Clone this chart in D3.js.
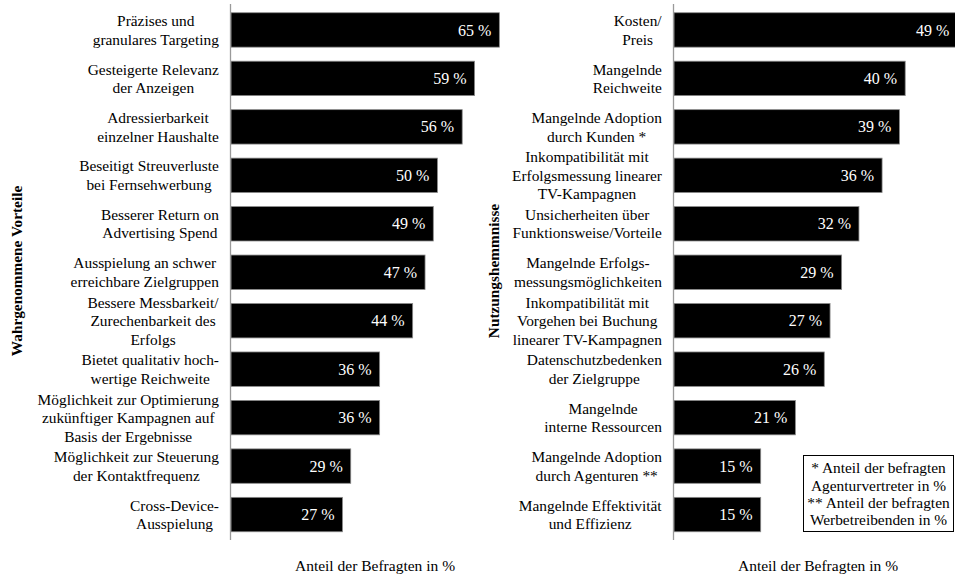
<!DOCTYPE html>
<html>
<head>
<meta charset="utf-8">
<script src="https://cdn.jsdelivr.net/npm/d3@7"></script>
<style>
  body { margin: 0; background: #fff; }
  text { font-family: 'Liberation Serif', 'DejaVu Serif', serif; }
</style>
</head>
<body>
<div id="chart"></div>
<script>
// ---- data ----
var vorteileLabels = [
  ["Präzises und", "granulares Targeting"],
  ["Gesteigerte Relevanz", "der Anzeigen"],
  ["Adressierbarkeit", "einzelner Haushalte"],
  ["Beseitigt Streuverluste", "bei Fernsehwerbung"],
  ["Besserer Return on", "Advertising Spend"],
  ["Ausspielung an schwer", "erreichbare Zielgruppen"],
  ["Bessere Messbarkeit/", "Zurechenbarkeit des", "Erfolgs"],
  ["Bietet qualitativ hoch-", "wertige Reichweite"],
  ["Möglichkeit zur Optimierung", "zukünftiger Kampagnen auf", "Basis der Ergebnisse"],
  ["Möglichkeit zur Steuerung", "der Kontaktfrequenz"],
  ["Cross-Device-", "Ausspielung"]
];
var vorteileValues = [65, 59, 56, 50, 49, 47, 44, 36, 36, 29, 27];

var hemmnisseLabels = [
  ["Kosten/", "Preis"],
  ["Mangelnde", "Reichweite"],
  ["Mangelnde Adoption", "durch Kunden *"],
  ["Inkompatibilität mit", "Erfolgsmessung linearer", "TV-Kampagnen"],
  ["Unsicherheiten über", "Funktionsweise/Vorteile"],
  ["Mangelnde Erfolgs-", "messungsmöglichkeiten"],
  ["Inkompatibilität mit", "Vorgehen bei Buchung", "linearer TV-Kampagnen"],
  ["Datenschutzbedenken", "der Zielgruppe"],
  ["Mangelnde", "interne Ressourcen"],
  ["Mangelnde Adoption", "durch Agenturen **"],
  ["Mangelnde Effektivität", "und Effizienz"]
];
var hemmnisseValues = [49, 40, 39, 36, 32, 29, 27, 26, 21, 15, 15];

var legendLines = [
  "* Anteil der befragten",
  "Agenturvertreter in %",
  "** Anteil der befragten",
  "Werbetreibenden in %"
];

var width = 955, height = 576;
var serif = "'Liberation Serif', 'DejaVu Serif', serif";

var svg = d3.select("#chart").append("svg")
    .attr("width", width)
    .attr("height", height)
    .style("display", "block")
    .style("font-family", serif);

// draws one bar panel
function drawPanel(opts) {
  var labels = opts.labels, values = opts.values;
  var idx = d3.range(values.length);

  var x = d3.scaleLinear()
      .domain([0, opts.max])
      .range([opts.left, opts.left + 289]);

  var y = d3.scaleBand()
      .domain(idx)
      .range([4.5, 540])
      .paddingInner(0.29)
      .paddingOuter(0.17);

  var g = svg.append("g");

  // bars
  g.selectAll(".bar")
      .data(idx)
    .enter().append("rect")
      .attr("class", "bar")
      .attr("x", x(0))
      .attr("y", function(i) { return y(i); })
      .attr("width", function(i) { return x(values[i]) - x(0); })
      .attr("height", y.bandwidth())
      .style("fill", "#000")
      .style("stroke", "#8a8a8a")
      .style("stroke-width", 0.8);

  // value labels, right aligned inside the bar
  g.selectAll(".val")
      .data(idx)
    .enter().append("text")
      .attr("class", "val")
      .attr("x", function(i) { return x(values[i]) - 8; })
      .attr("y", function(i) { return y(i) + y.bandwidth() / 2; })
      .attr("dy", "0.35em")
      .attr("font-family", serif)
      .style("text-anchor", "end")
      .style("font-size", "16px")
      .style("fill", "#fff")
      .text(function(i) { return values[i] + " %"; });

  // vertical axis line
  g.append("line")
      .attr("x1", x(0) - 0.5).attr("x2", x(0) - 0.5)
      .attr("y1", 4).attr("y2", 540)
      .style("stroke", "#9a9a9a")
      .style("stroke-width", 1.3);

  // category labels: lines centred, block right aligned to the axis
  var lineH = 18.5;
  idx.forEach(function(i) {
    var lines = labels[i];
    var t = g.append("text")
        .attr("font-family", serif)
        .style("font-size", "15.4px")
        .style("fill", "#000")
        .style("text-anchor", "middle");
    var cy = y(i) + y.bandwidth() / 2;
    lines.forEach(function(l, k) {
      t.append("tspan")
          .attr("x", 0)
          .attr("y", cy + (k - (lines.length - 1) / 2) * lineH)
          .attr("dy", "0.35em")
          .text(l);
    });
    var w = t.node().getBBox().width;
    t.selectAll("tspan").attr("x", x(0) - 12 - w / 2);
  });

  // rotated panel title
  g.append("text")
      .attr("transform", "translate(" + opts.titleX + ",271) rotate(-90)")
      .attr("dy", "0.35em")
      .attr("font-family", serif)
      .style("text-anchor", "middle")
      .style("font-weight", "bold")
      .style("font-size", "15.3px")
      .text(opts.title);

  // x axis title
  g.append("text")
      .attr("x", opts.xTitleX)
      .attr("y", 571)
      .attr("font-family", serif)
      .style("text-anchor", "middle")
      .style("font-size", "15.5px")
      .text("Anteil der Befragten in %");
}

drawPanel({
  labels: vorteileLabels, values: vorteileValues,
  max: 70, left: 231, title: "Wahrgenommene Vorteile",
  titleX: 17, xTitleX: 375
});

drawPanel({
  labels: hemmnisseLabels, values: hemmnisseValues,
  max: 50, left: 674, title: "Nutzungshemmnisse",
  titleX: 494, xTitleX: 818
});

// footnote box
var legend = svg.append("g");
legend.append("rect")
    .attr("x", 803.5).attr("y", 455.5)
    .attr("width", 150).attr("height", 76)
    .style("fill", "#fff")
    .style("stroke", "#000")
    .style("stroke-width", 1);

legend.selectAll("text")
    .data(legendLines)
  .enter().append("text")
    .attr("x", 878.5)
    .attr("y", function(d, i) { return 468 + i * 17.3; })
    .attr("dy", "0.35em")
    .attr("font-family", serif)
    .style("text-anchor", "middle")
    .style("font-size", "15.4px")
    .text(function(d) { return d; });
</script>
</body>
</html>
